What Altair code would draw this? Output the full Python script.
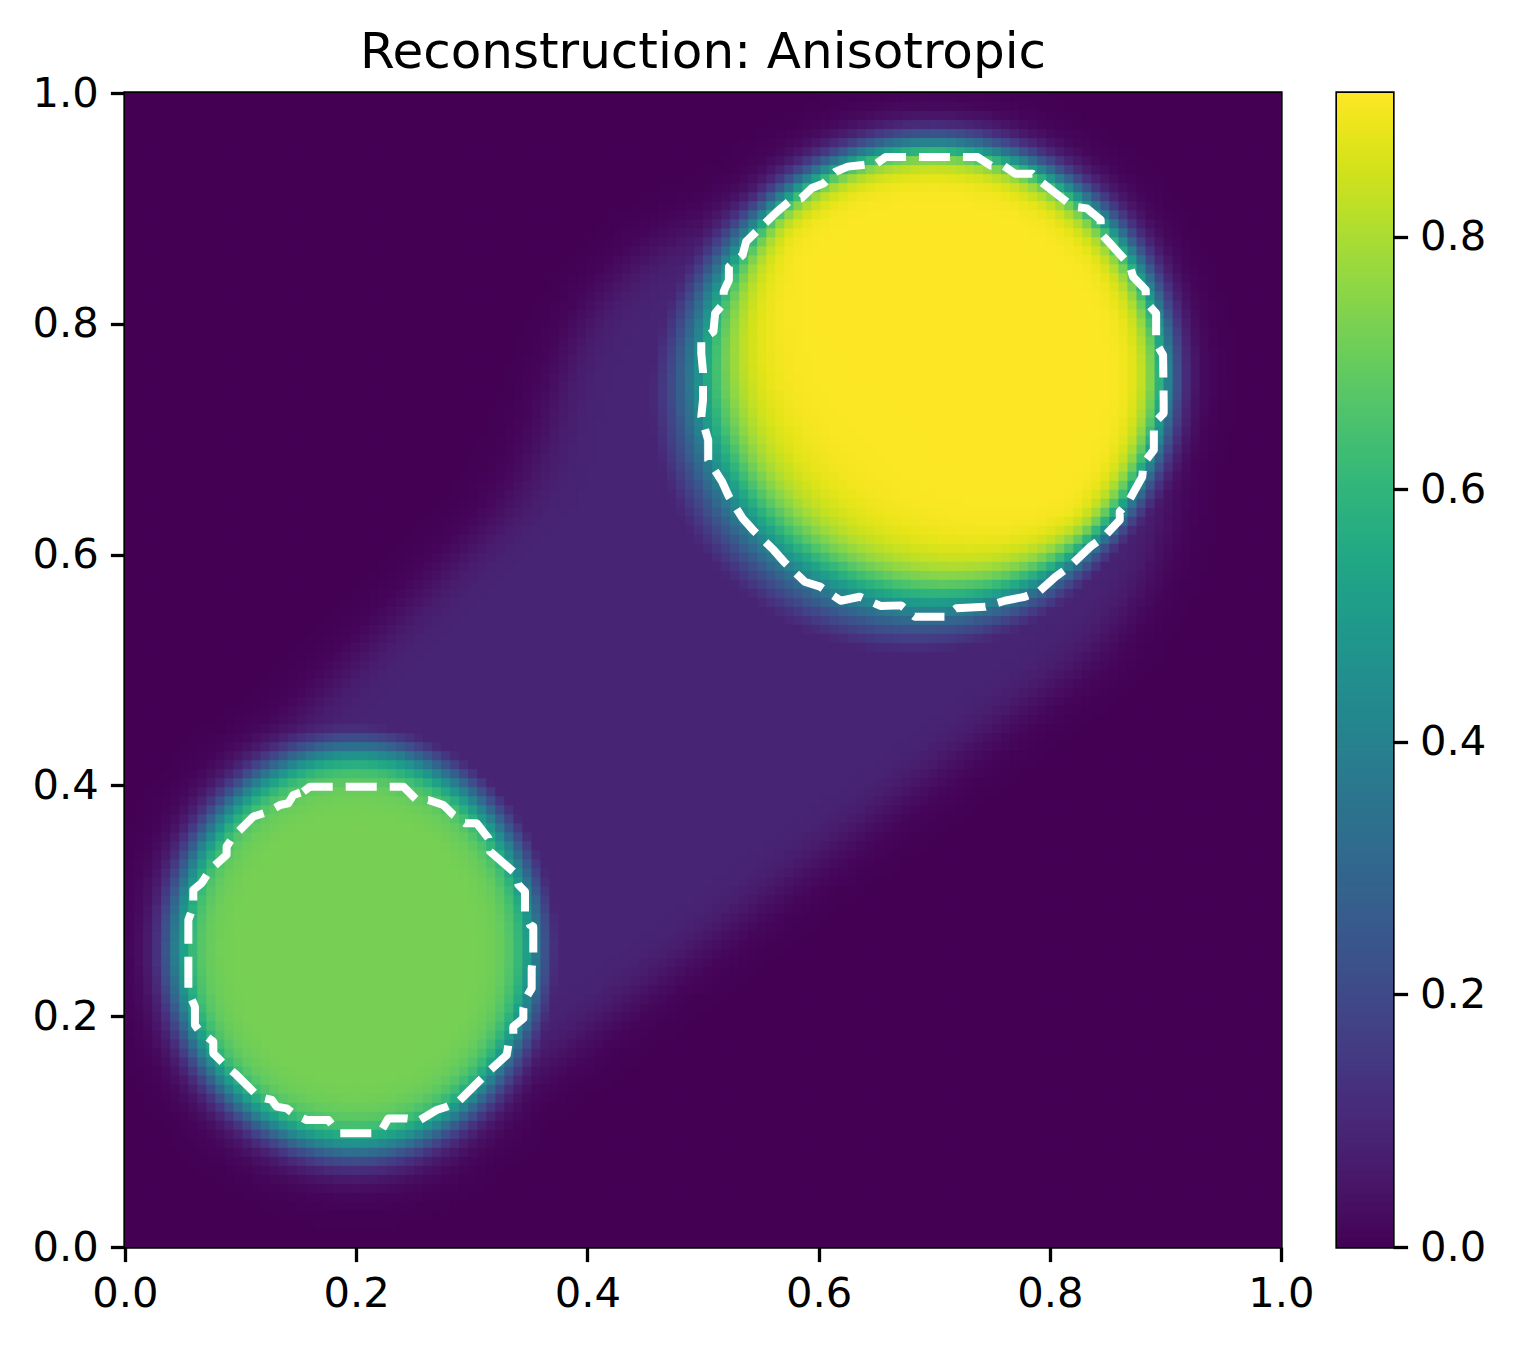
import numpy as np
import pandas as pd
import altair as alt

GRID = 128
VMAX = 0.914
FONT = "DejaVu Sans"
TITLE = "Reconstruction: Anisotropic"

# Reconstructed blobs: centre, semi-axes, plateau level, edge softness,
# and extra edge softness on the side that faces the other blob.
blob_cx = [0.199, 0.698]
blob_cy = [0.258, 0.755]
blob_rx = [0.157, 0.202]
blob_ry = [0.174, 0.200]
blob_level = [0.727, 0.914]
blob_soft = [0.010, 0.009]
blob_trail = [0.000, 0.013]
blob_trail_dir = [45.0, 225.0]

# Faint streak joining the blobs: hull of two circles, blended with a bulge circle.
streak_cx = [0.200, 0.680]
streak_cy = [0.257, 0.673]
streak_r = [0.176, 0.221]
bulge_cx, bulge_cy, bulge_r = 0.545, 0.720, 0.165
streak_blend = 0.08
streak_level = 0.09
streak_soft = 0.011

# True object outlines (dashed white), traced clockwise.
outline_a_x = [0.1543, 0.1600, 0.2408, 0.2523, 0.2624, 0.2754, 0.2841, 0.2941, 0.3042, 0.3143,
               0.3158, 0.3374, 0.3403, 0.3460, 0.3460, 0.3504, 0.3532, 0.3532, 0.3518, 0.3518,
               0.3475, 0.3446, 0.3446, 0.3359, 0.3359, 0.3316, 0.3302, 0.3143, 0.3086, 0.2884,
               0.2783, 0.2696, 0.2552, 0.2437, 0.2278, 0.2220, 0.2177, 0.1860, 0.1817, 0.1759,
               0.1572, 0.1456, 0.1398, 0.1312, 0.1269, 0.1154, 0.0966, 0.0865, 0.0764, 0.0764,
               0.0649, 0.0605, 0.0605, 0.0548, 0.0548, 0.0548, 0.0548, 0.0591, 0.0591, 0.0663,
               0.0735, 0.0879, 0.0879, 0.0937, 0.1110, 0.1240, 0.1341, 0.1413, 0.1456, 0.1543]
outline_a_y = [0.3946, 0.3989, 0.3989, 0.3874, 0.3874, 0.3830, 0.3744, 0.3672, 0.3672, 0.3543,
               0.3427, 0.3240, 0.3139, 0.3081, 0.2891, 0.2790, 0.2776, 0.2545, 0.2415, 0.2241,
               0.2169, 0.2068, 0.1981, 0.1909, 0.1837, 0.1750, 0.1663, 0.1519, 0.1461, 0.1259,
               0.1216, 0.1187, 0.1100, 0.1114, 0.1114, 0.1014, 0.0985, 0.0985, 0.1028, 0.1100,
               0.1100, 0.1158, 0.1201, 0.1216, 0.1274, 0.1302, 0.1490, 0.1577, 0.1678, 0.1779,
               0.1866, 0.1924, 0.2082, 0.2212, 0.2429, 0.2602, 0.2834, 0.2949, 0.3095, 0.3153,
               0.3268, 0.3398, 0.3470, 0.3557, 0.3730, 0.3772, 0.3830, 0.3845, 0.3917, 0.3946]

outline_b_x = [0.6505, 0.6580, 0.7375, 0.7490, 0.7600, 0.7700, 0.7850, 0.7925, 0.8200, 0.8320,
               0.8440, 0.8440, 0.8520, 0.8690, 0.8720, 0.8830, 0.8830, 0.8920, 0.8920, 0.8980,
               0.8985, 0.8985, 0.8900, 0.8900, 0.8810, 0.8800, 0.8680, 0.8605, 0.8605, 0.8470,
               0.8350, 0.8170, 0.8050, 0.7905, 0.7785, 0.7610, 0.7443, 0.7190, 0.7100, 0.6832,
               0.6713, 0.6535, 0.6356, 0.6192, 0.6013, 0.5879, 0.5701, 0.5611, 0.5433, 0.5343,
               0.5224, 0.5165, 0.5045, 0.5045, 0.4985, 0.5000, 0.5000, 0.4985, 0.4985, 0.5090,
               0.5105, 0.5179, 0.5179, 0.5224, 0.5224, 0.5343, 0.5373, 0.5551, 0.5641, 0.5760,
               0.5849, 0.5939, 0.6043, 0.6147, 0.6252, 0.6505]
outline_b_y = [0.9391, 0.9445, 0.9445, 0.9370, 0.9370, 0.9300, 0.9300, 0.9230, 0.9015, 0.9000,
               0.8900, 0.8784, 0.8698, 0.8510, 0.8408, 0.8293, 0.8192, 0.8091, 0.7831, 0.7730,
               0.7340, 0.7224, 0.7138, 0.6906, 0.6791, 0.6675, 0.6459, 0.6372, 0.6300, 0.6155,
               0.6068, 0.5895, 0.5808, 0.5679, 0.5635, 0.5600, 0.5549, 0.5535, 0.5462, 0.5462,
               0.5560, 0.5555, 0.5635, 0.5600, 0.5722, 0.5765, 0.5938, 0.6040, 0.6213, 0.6314,
               0.6502, 0.6632, 0.6820, 0.6993, 0.7195, 0.7340, 0.7585, 0.7744, 0.7860, 0.7932,
               0.8091, 0.8178, 0.8279, 0.8379, 0.8495, 0.8596, 0.8712, 0.8885, 0.8972, 0.9073,
               0.9087, 0.9174, 0.9217, 0.9318, 0.9362, 0.9391]

x_ticks = [0.0, 0.2, 0.4, 0.6, 0.8, 1.0]
cbar_ticks = [0.0, 0.2, 0.4, 0.6, 0.8]

PLOT_W, PLOT_H = 1156, 1154
BAR_W, BAR_GAP = 56, 56

# ---- reconstruction field on the pixel grid ----
centres = (np.arange(GRID) + 0.5) / GRID
X, Y = np.meshgrid(centres, centres)


def logistic(d, s):
    return 1.0 / (1.0 + np.exp(np.clip(d / s, -60, 60)))


def smooth_min(a, b, k):
    h = np.clip(0.5 + 0.5 * (b - a) / k, 0.0, 1.0)
    return b * (1 - h) + a * h - k * h * (1 - h)


def blob(i):
    dx, dy = X - blob_cx[i], Y - blob_cy[i]
    rho = np.hypot(dx / blob_rx[i], dy / blob_ry[i])
    dist = (rho - 1.0) * np.sqrt(blob_rx[i] * blob_ry[i])
    facing = np.cos(np.arctan2(dy, dx) - np.radians(blob_trail_dir[i]))
    soft = blob_soft[i] + blob_trail[i] * np.clip(facing, 0, None)
    return blob_level[i] * logistic(dist, soft)


def streak():
    t = np.linspace(0.0, 1.0, 121)
    d = np.full(X.shape, np.inf)
    for tk in t:
        cx = streak_cx[0] + tk * (streak_cx[1] - streak_cx[0])
        cy = streak_cy[0] + tk * (streak_cy[1] - streak_cy[0])
        r = streak_r[0] + tk * (streak_r[1] - streak_r[0])
        d = np.minimum(d, np.hypot(X - cx, Y - cy) - r)
    d_bulge = np.hypot(X - bulge_cx, Y - bulge_cy) - bulge_r
    d = smooth_min(d, d_bulge, streak_blend)
    return streak_level * logistic(d, streak_soft)


field = np.maximum.reduce([blob(0), blob(1), streak()])
field = np.clip(field, 0.0, VMAX)

step = 1.0 / GRID
overlap = 0.0012
cells = pd.DataFrame({
    "x0": (X - step / 2).ravel(),
    "x1": (X + step / 2 + overlap).ravel(),
    "y0": (Y - step / 2).ravel(),
    "y1": (Y + step / 2 + overlap).ravel(),
    "v": field.ravel(),
})

outlines = pd.DataFrame({
    "x": outline_a_x + outline_b_x,
    "y": outline_a_y + outline_b_y,
    "shape": ["a"] * len(outline_a_x) + ["b"] * len(outline_b_x),
    "k": list(range(len(outline_a_x))) + list(range(len(outline_b_x))),
})

color_scale = alt.Scale(scheme="viridis", domain=[0, VMAX], clamp=True)
unit = alt.Scale(domain=[0, 1], nice=False, zero=False)

axis_style = dict(
    format=".1f", title=None, grid=False, domain=False,
    tickColor="black", tickWidth=3.3, tickSize=14.6,
    labelFont=FONT, labelFontSize=41.7, labelColor="black", labelPadding=12,
    labelFlush=False, labelOverlap=False,
)

heat = alt.Chart(cells).mark_rect(clip=True, strokeWidth=0).encode(
    x=alt.X("x0:Q", scale=unit, axis=alt.Axis(values=x_ticks, **axis_style)),
    x2="x1:Q",
    y=alt.Y("y0:Q", scale=unit, axis=alt.Axis(values=x_ticks, **axis_style)),
    y2="y1:Q",
    color=alt.Color("v:Q", scale=color_scale, legend=None),
)

lines = alt.Chart(outlines).mark_line(
    color="white", strokeWidth=8, strokeDash=[31, 13], strokeCap="butt", strokeJoin="round"
).encode(
    x=alt.X("x:Q", scale=unit),
    y=alt.Y("y:Q", scale=unit),
    detail="shape:N",
    order="k:Q",
)

# panel title, centred over the image panel
title = alt.Chart(pd.DataFrame({"t": [TITLE]})).mark_text(
    font=FONT, fontSize=50, color="black", align="center", baseline="alphabetic"
).encode(
    text="t:N",
    x=alt.value(PLOT_W / 2),
    y=alt.value(-25),
)

main = alt.layer(heat, lines, title).properties(width=PLOT_W, height=PLOT_H)

# ---- colour bar ----
levels = np.linspace(0.0, VMAX, 257)
bar = pd.DataFrame({
    "lo": levels[:-1],
    "hi": levels[1:] + VMAX * 0.002,
    "mid": (levels[:-1] + levels[1:]) / 2,
    "c0": 0.0,
    "c1": 1.0,
})

cbar = alt.Chart(bar).mark_rect(clip=True, strokeWidth=0).encode(
    x=alt.X("c0:Q", scale=unit, axis=None),
    x2="c1:Q",
    y=alt.Y("lo:Q", scale=alt.Scale(domain=[0, VMAX], nice=False, zero=False),
            axis=alt.Axis(values=cbar_ticks, orient="right", **axis_style)),
    y2="hi:Q",
    color=alt.Color("mid:Q", scale=color_scale, legend=None),
).properties(width=BAR_W, height=PLOT_H)

chart = alt.hconcat(main, cbar, spacing=BAR_GAP, bounds="flush").configure_view(
    stroke="black", strokeWidth=3.3
).properties(
    padding={"left": 30, "top": 26, "right": 0, "bottom": 0},
    background="white",
)

chart.save("out.html", embed_options={"renderer": "svg", "actions": False})
